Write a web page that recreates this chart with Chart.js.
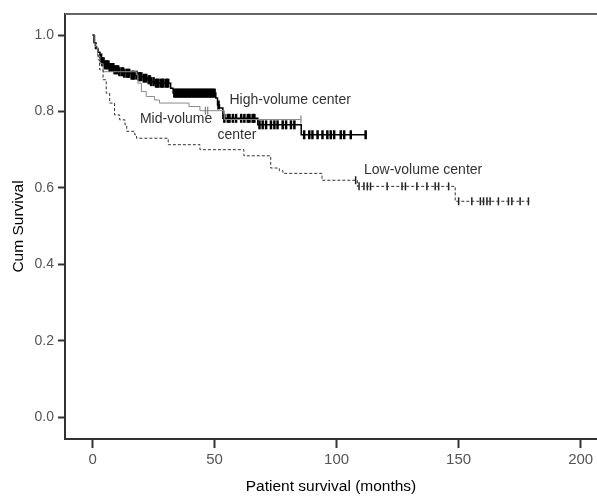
<!DOCTYPE html>
<html>
<head>
<meta charset="utf-8">
<script src="https://cdn.jsdelivr.net/npm/chart.js@4.4.1/dist/chart.umd.min.js"></script>
<style>
  html, body { margin: 0; padding: 0; background: #fff; overflow: hidden; }
  #wrap { width: 597px; height: 499px; }
  canvas { display: block; }
</style>
</head>
<body>
<div id="wrap"><canvas id="kmChart" width="597" height="499"></canvas></div>
<script>
// Kaplan-Meier curves (months, cumulative survival)
var highTimes = [0, 0.6, 1.2, 2.2, 3, 3.6, 5, 7, 9, 11, 13, 16, 18.6, 21, 22.6, 24, 25.4, 32, 33, 50.5, 51.2, 52, 53.4, 67.7, 85.5, 111.9];
var highSurv  = [1.0, 0.98, 0.965, 0.955, 0.94, 0.93, 0.922, 0.915, 0.909, 0.904, 0.9, 0.895, 0.891, 0.887, 0.883, 0.878, 0.874, 0.861, 0.848, 0.835, 0.817, 0.809, 0.782, 0.765, 0.739, 0.739];
var highCensored = [3.5, 4, 4.5, 5, 5.5, 6, 6.5, 7, 7.5, 8, 8.5, 9, 9.5, 10, 10.5, 11, 12, 12.5, 13, 14, 14.5, 15, 16, 16.5, 17, 18, 19, 19.5, 20, 21, 22, 23, 23.5, 24, 25, 26, 26.5, 27, 28, 28.5, 29, 30, 30.5, 31,
  33.5, 34, 34.5, 35, 35.5, 36, 36.5, 37, 37.5, 38, 38.5, 39, 39.5, 40, 40.5, 41, 41.5, 42, 42.5, 43, 43.5, 44, 44.5, 45, 45.5, 46, 46.5, 47, 47.5, 48, 48.5, 49, 49.5, 50, 51.6,
  54, 55.4, 56.1, 57.5, 58.8, 60.9, 62.2, 63.6, 64.3, 65.6, 66.3,
  68.4, 69.7, 71.1, 73.1, 74.5, 75.8, 77.9, 79.3, 81.3, 82.7,
  86.7, 88.8, 90.1, 92.2, 94.2, 96.2, 97.6, 99, 101.7, 103.1, 105.8, 111.9];

var midTimes = [0, 1, 2, 3, 4.3, 18, 18.6, 20, 22, 25.4, 27.4, 39.5, 44, 54, 85.4];
var midSurv  = [1.0, 0.97, 0.945, 0.925, 0.904, 0.896, 0.874, 0.852, 0.839, 0.83, 0.822, 0.813, 0.802, 0.779, 0.779];
var midCensored = [46.2, 47.2, 85.4];

var lowTimes = [0, 0.5, 1.6, 2.3, 2.9, 4.3, 5.6, 7, 9, 11.1, 13.3, 14, 17.3, 18, 31, 44, 62, 73, 76.5, 78, 94, 108.5, 148.6, 179.3];
var lowSurv  = [1.0, 0.98, 0.961, 0.935, 0.909, 0.883, 0.848, 0.822, 0.791, 0.778, 0.765, 0.748, 0.739, 0.73, 0.713, 0.7, 0.684, 0.652, 0.645, 0.638, 0.62, 0.604, 0.565, 0.565];
var lowCensored = [107.8, 109.2, 111.2, 112.6, 113.9, 120.7, 126.8, 128.2, 132.9, 137, 140.4, 141.8, 145.9,
  150, 155.4, 158.9, 160.2, 161.6, 162.9, 166.3, 170.4, 171.8, 175.2, 178.6];

var xTicks = [0, 50, 100, 150, 200];
var yTicks = [0.0, 0.2, 0.4, 0.6, 0.8, 1.0];

// curve labels, anchored in data units (left edge, vertical middle)
var curveLabels = [
  { text: 'High-volume center', x: 56.1, y: 0.83 },
  { text: 'Mid-volume', x: 19.4, y: 0.781 },
  { text: 'center', x: 51.2, y: 0.739 },
  { text: 'Low-volume center', x: 111.2, y: 0.6475 }
];

var fontFamily = '"Liberation Sans", Arial, sans-serif';

function toPoints(times, surv) {
  var pts = [];
  for (var i = 0; i < times.length; i++) {
    pts.push({ x: times[i], y: surv[i] });
  }
  return pts;
}

// survival value of the step curve at time t
function survivalAt(times, surv, t) {
  var s = surv[0];
  for (var i = 0; i < times.length; i++) {
    if (times[i] <= t) s = surv[i];
  }
  return s;
}

function censorPoints(censored, times, surv) {
  var pts = [];
  for (var i = 0; i < censored.length; i++) {
    pts.push({ x: censored[i], y: survivalAt(times, surv, censored[i]) });
  }
  return pts;
}

function curveSet(times, surv, color, width, dash) {
  return {
    data: toPoints(times, surv),
    showLine: true,
    stepped: true,
    borderColor: color,
    borderWidth: width,
    borderDash: dash,
    pointRadius: 0,
    fill: false
  };
}

function censorSet(censored, times, surv, color, width, size) {
  return {
    data: censorPoints(censored, times, surv),
    showLine: false,
    pointStyle: 'line',
    rotation: 90,
    pointRadius: size,
    borderColor: color,
    backgroundColor: color,
    pointBorderWidth: width
  };
}

var framePlugin = {
  id: 'frameAndLabels',
  afterDraw: function(chart) {
    var ctx = chart.ctx;
    var area = chart.chartArea;
    var xs = chart.scales.x;
    var ys = chart.scales.y;
    ctx.save();
    ctx.strokeStyle = '#666';
    ctx.lineWidth = 2;
    ctx.beginPath();
    ctx.moveTo(area.left, area.top);
    ctx.lineTo(area.right, area.top);
    ctx.stroke();

    ctx.fillStyle = '#333';
    ctx.font = '14px ' + fontFamily;
    ctx.textAlign = 'left';
    ctx.textBaseline = 'middle';
    for (var i = 0; i < curveLabels.length; i++) {
      var lb = curveLabels[i];
      ctx.fillText(lb.text, xs.getPixelForValue(lb.x), ys.getPixelForValue(lb.y));
    }
    ctx.restore();
  }
};

var canvas = document.getElementById('kmChart');
var ctx = canvas.getContext('2d');

var chart = new Chart(ctx, {
  type: 'scatter',
  data: {
    datasets: [
      curveSet(lowTimes, lowSurv, '#333', 1, [3, 2]),
      curveSet(midTimes, midSurv, '#8a8a8a', 1, []),
      curveSet(highTimes, highSurv, '#000', 1.5, []),
      censorSet(lowCensored, lowTimes, lowSurv, '#222', 1.5, 4),
      censorSet(midCensored, midTimes, midSurv, '#666', 1, 4),
      censorSet(highCensored, highTimes, highSurv, '#000', 2.5, 4.5)
    ]
  },
  options: {
    responsive: false,
    animation: false,
    layout: { autoPadding: false, padding: { top: 14, right: 0, bottom: 0, left: 0 } },
    plugins: {
      legend: { display: false },
      tooltip: { enabled: false }
    },
    scales: {
      x: {
        type: 'linear',
        min: -11.3,
        max: 206.7,
        afterBuildTicks: function(scale) {
          scale.ticks = xTicks.map(function(v) { return { value: v }; });
        },
        afterFit: function(scale) {
          scale.height = 60;
          scale.paddingLeft = 0;
          scale.paddingRight = 0;
        },
        grid: {
          drawOnChartArea: false,
          drawTicks: true,
          tickLength: 9,
          tickWidth: 2,
          tickColor: '#333'
        },
        border: { display: true, color: '#333', width: 2 },
        ticks: {
          color: '#555',
          padding: 3,
          maxRotation: 0,
          font: { family: fontFamily, size: 15 }
        },
        title: {
          display: true,
          text: 'Patient survival (months)',
          color: '#000',
          padding: { top: 0, bottom: 3 },
          font: { family: fontFamily, size: 15.5 }
        }
      },
      y: {
        type: 'linear',
        min: -0.057,
        max: 1.055,
        afterBuildTicks: function(scale) {
          scale.ticks = yTicks.map(function(v) { return { value: v }; });
        },
        afterFit: function(scale) {
          scale.width = 65;
          scale.paddingTop = 0;
          scale.paddingBottom = 0;
        },
        grid: {
          drawOnChartArea: false,
          drawTicks: true,
          tickLength: 7,
          tickWidth: 2,
          tickColor: '#333'
        },
        border: { display: true, color: '#333', width: 2 },
        ticks: {
          color: '#555',
          padding: 4,
          callback: function(v) { return Number(v).toFixed(1); },
          font: { family: fontFamily, size: 14 }
        },
        title: {
          display: true,
          text: 'Cum Survival',
          color: '#000',
          padding: { top: 9, bottom: 0 },
          font: { family: fontFamily, size: 15.5 }
        }
      }
    }
  },
  plugins: [framePlugin]
});
</script>
</body>
</html>
